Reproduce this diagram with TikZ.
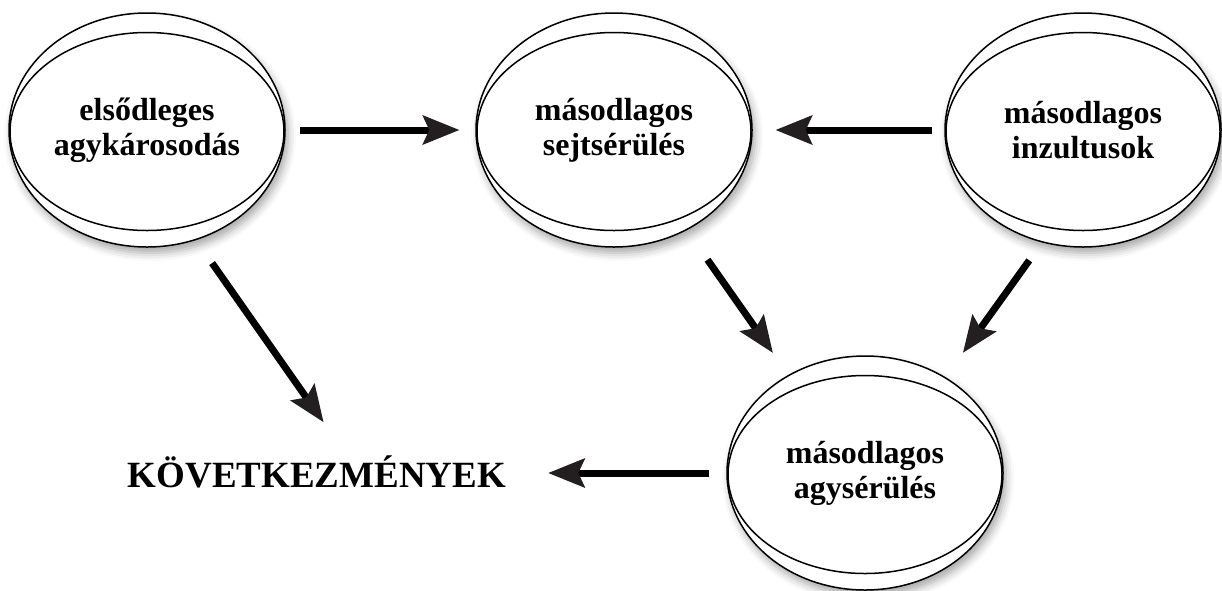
\documentclass[tikz,border=0pt]{standalone}
\usepackage{fontspec}
\setmainfont{Liberation Serif}
\usepackage{tikz}
\usetikzlibrary{
    positioning,
    arrows.meta,
    shapes.geometric,
    shadows.blur
}
\definecolor{headgray}{HTML}{231F20}
\tikzset{
    disk/.style={
        shape=ellipse, draw, fill=white, line width=1.5pt,
        minimum width=276pt, minimum height=234pt, inner sep=0pt,
        align=center, font=\bfseries\fontsize{32}{35}\selectfont,
        blur shadow={shadow xshift=3pt, shadow yshift=-6pt,
            shadow blur radius=8pt, shadow opacity=35},
        path picture={
            \draw[line width=1.5pt] ([yshift=-1.5pt]path picture bounding box.center)
                ellipse [x radius=137pt, y radius=99pt];
        }
    },
    result/.style={
        inner sep=0pt, font=\bfseries\fontsize{37}{40}\selectfont
    },
    link/.style={
        line width=7pt,
        -{Stealth[length=37pt, width=30pt, inset=7pt, line width=0pt, color=headgray]}
    },
}

\begin{document}
\begin{tikzpicture}[x=1pt, y=-1pt]
    \useasboundingbox (0,0) rectangle (1222,590);

    \node[disk] (elso)   at (147,130) {elsődleges\\agykárosodás};
    \node[disk] (sejt)   at (614,130) {másodlagos\\sejtsérülés};
    \node[disk] (inzult) at (1083,130) {másodlagos\\inzultusok};
    \node[disk] (agy)    at (865,473) {másodlagos\\agysérülés};
    \node[result] (kov)  at (317,472) {KÖVETKEZMÉNYEK};

    % top row
    \draw[link, shorten <=14pt, shorten >=16pt] (elso) -- (sejt);
    \draw[link, shorten <=12pt, shorten >=23pt] (inzult) -- (sejt);
    % down to the secondary brain injury
    \draw[link, shorten <=36pt, shorten >=27pt] (sejt.-54) -- (agy.128);
    \draw[link, shorten <=22pt, shorten >=30pt] (inzult.-110) -- (agy.50);
    % consequences
    \draw[link, shorten <=28pt, shorten >=41pt] (elso.-66) -- ([xshift=30pt]kov.north);
    \draw[link, shorten <=17pt, shorten >=42pt] (agy) -- (agy -| kov.east);
\end{tikzpicture}
\end{document}
